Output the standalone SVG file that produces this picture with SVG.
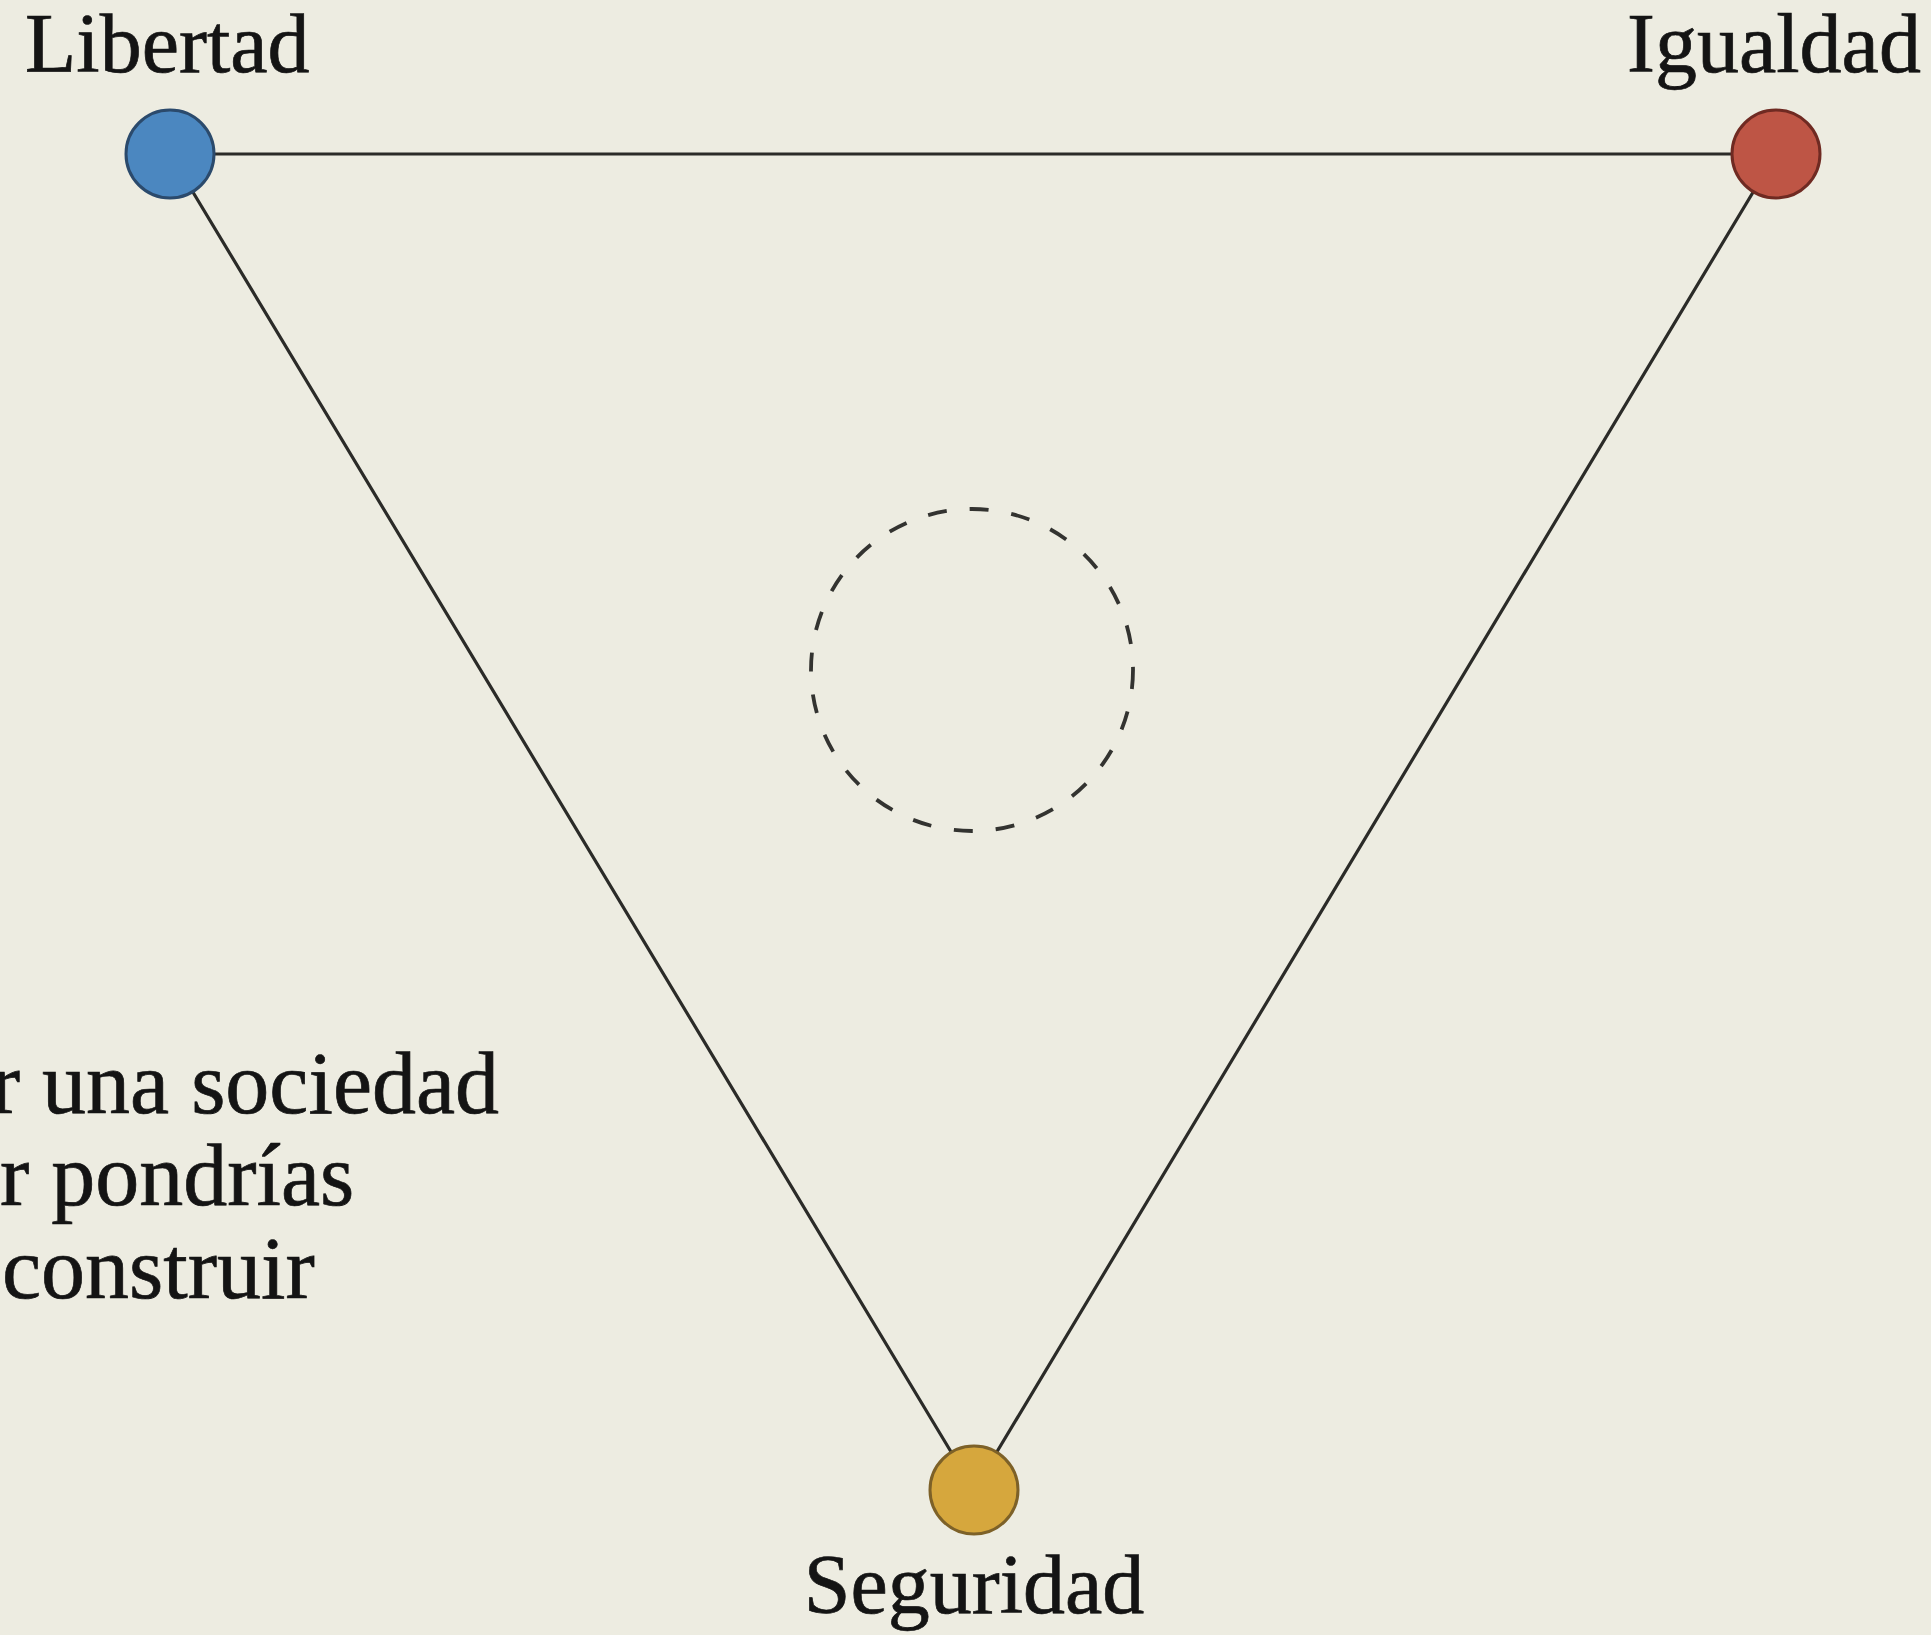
<svg xmlns="http://www.w3.org/2000/svg" width="1931" height="1635" viewBox="0 0 1931 1635">
<style>
.bg{fill:#edece1}
.edge{stroke:#2b2b28;stroke-width:3.2;fill:none;stroke-linecap:round}
.node{stroke-width:3}
.lbl{font-family:"Liberation Serif","Times New Roman",serif;fill:#141414;stroke:#141414;stroke-width:0.7;font-size:84px}
.body{font-family:"Liberation Serif","Times New Roman",serif;fill:#141414;stroke:#141414;stroke-width:0.7;font-size:88px}
.dash{fill:none;stroke:#333330;stroke-width:3.8;stroke-dasharray:19 23}
</style>
<rect class="bg" x="0" y="0" width="1931" height="1635"/>
<g id="connectors">
<line class="edge" x1="170" y1="154" x2="1776" y2="154"/>
<line class="edge" x1="170" y1="154" x2="974" y2="1490"/>
<line class="edge" x1="1776" y1="154" x2="974" y2="1490"/>
</g>
<g id="center-marker">
<circle class="dash" cx="972" cy="670" r="161"/>
</g>
<g id="node-libertad">
<circle class="node" cx="170" cy="154" r="44" fill="#4b87c0" stroke="#2b4a6c"/>
<text class="lbl" x="25" y="72">Libertad</text>
</g>
<g id="node-igualdad">
<circle class="node" cx="1776" cy="154" r="44" fill="#be5545" stroke="#6f2a22"/>
<text class="lbl" x="1627" y="72">Igualdad</text>
</g>
<g id="node-seguridad">
<circle class="node" cx="974" cy="1490" r="44" fill="#d6a73d" stroke="#7d6128"/>
<text class="lbl" x="974" y="1613" text-anchor="middle">Seguridad</text>
</g>
<g id="side-text">
<text class="body" x="499" y="1113" text-anchor="end">ar una sociedad</text>
<text class="body" x="0" y="1205">r pondrías</text>
<text class="body" x="2" y="1298">construir</text>
</g>
</svg>
